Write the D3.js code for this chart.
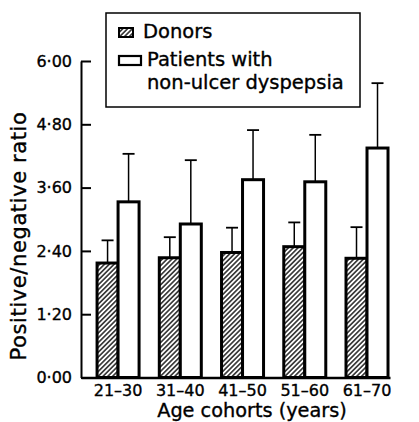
<!DOCTYPE html>
<html>
<head>
<meta charset="utf-8">
<script src="https://cdn.jsdelivr.net/npm/d3@7"></script>
<style>
  body { margin: 0; background: #fff; }
  text { font-family: "DejaVu Sans", sans-serif; fill: #000; stroke: #000; stroke-width: 0.35px; }
</style>
</head>
<body>
<div id="chart"></div>
<script>
// age cohorts and series (mean ratio, top of SD bar)
const cohorts = ['21–30', '31–40', '41–50', '51–60', '61–70'];
const donors = [2.17, 2.27, 2.37, 2.48, 2.26];
const donorsTop = [2.60, 2.66, 2.84, 2.94, 2.85];
const patients = [3.33, 2.91, 3.75, 3.71, 4.35];
const patientsTop = [4.24, 4.12, 4.69, 4.60, 5.58];
const yTicks = [0, 1.2, 2.4, 3.6, 4.8, 6.0];

const width = 419;
const height = 422;

const svg = d3.select('#chart')
  .append('svg')
  .attr('width', width)
  .attr('height', height);

const defs = svg.append('defs');
defs.append('pattern')
  .attr('id', 'hatch')
  .attr('patternUnits', 'userSpaceOnUse')
  .attr('width', 3.4)
  .attr('height', 3.4)
  .attr('patternTransform', 'rotate(45)')
  .append('line')
    .attr('x1', 1.7).attr('y1', -1)
    .attr('x2', 1.7).attr('y2', 5)
    .attr('stroke', '#000')
    .attr('stroke-width', 1.3);

const y = d3.scaleLinear().domain([0, 6]).range([377.5, 61]);

const x0 = d3.scaleBand()
  .domain(cohorts)
  .range([81, 390])
  .paddingInner(0.325)
  .paddingOuter(0.145)
  .align(0.89);

const x1 = d3.scaleBand()
  .domain(['donors', 'patients'])
  .range([0, x0.bandwidth()]);

const rows = cohorts.map((c, i) => ({
  cohort: c,
  bars: [
    { key: 'donors', v: donors[i], top: donorsTop[i] },
    { key: 'patients', v: patients[i], top: patientsTop[i] }
  ]
}));

const groups = svg.append('g')
  .selectAll('g')
  .data(rows)
  .enter()
  .append('g')
  .attr('transform', d => 'translate(' + x0(d.cohort) + ',0)');

// error bars (upper only)
const err = groups.selectAll('g.err')
  .data(d => d.bars)
  .enter()
  .append('g')
  .attr('class', 'err');

err.append('line')
  .attr('x1', d => x1(d.key) + x1.bandwidth() / 2)
  .attr('x2', d => x1(d.key) + x1.bandwidth() / 2)
  .attr('y1', d => y(d.v))
  .attr('y2', d => y(d.top))
  .attr('stroke', '#000')
  .attr('stroke-width', 1.5);

err.append('line')
  .attr('x1', d => x1(d.key) + x1.bandwidth() / 2 - 6)
  .attr('x2', d => x1(d.key) + x1.bandwidth() / 2 + 6)
  .attr('y1', d => y(d.top))
  .attr('y2', d => y(d.top))
  .attr('stroke', '#000')
  .attr('stroke-width', 1.8);

groups.selectAll('rect')
  .data(d => d.bars)
  .enter()
  .append('rect')
  .attr('x', d => x1(d.key))
  .attr('y', d => y(d.v))
  .attr('width', x1.bandwidth())
  .attr('height', d => y(0) - y(d.v))
  .attr('fill', d => d.key === 'donors' ? 'url(#hatch)' : '#fff')
  .attr('stroke', '#000')
  .attr('stroke-width', 3);

// y axis, ticks point inward
const yAxis = svg.append('g')
  .attr('transform', 'translate(81,0)')
  .call(d3.axisLeft(y)
    .tickValues(yTicks)
    .tickSizeInner(-10)
    .tickSizeOuter(0)
    .tickPadding(9)
    .tickFormat(d => d3.format('.2f')(d).replace('.', '·')));

yAxis.selectAll('path, line').attr('stroke', '#000').attr('stroke-width', 2);
yAxis.selectAll('text')
  .style('font-family', '"DejaVu Sans", sans-serif')
  .style('font-size', '16px')
  .attr('fill', '#000');

// x axis
const xAxis = svg.append('g')
  .attr('transform', 'translate(0,' + y(0) + ')')
  .call(d3.axisBottom(x0).tickSize(0).tickPadding(7));

xAxis.select('.domain').attr('stroke', '#000').attr('stroke-width', 2.5);
xAxis.selectAll('text')
  .style('font-family', '"DejaVu Sans", sans-serif')
  .style('font-size', '16px')
  .attr('fill', '#000');

svg.append('text')
  .attr('x', 252)
  .attr('y', 417)
  .attr('text-anchor', 'middle')
  .style('font-size', '19.3px')
  .text('Age cohorts (years)');

svg.append('text')
  .attr('transform', 'translate(26,236) rotate(-90)')
  .attr('text-anchor', 'middle')
  .style('font-size', '21px')
  .style('letter-spacing', '0.6px')
  .text('Positive/negative ratio');

// legend
const legend = svg.append('g');
legend.append('rect')
  .attr('x', 106).attr('y', 13)
  .attr('width', 254).attr('height', 94)
  .attr('fill', '#fff')
  .attr('stroke', '#000')
  .attr('stroke-width', 1.5);

legend.append('rect')
  .attr('x', 119).attr('y', 28)
  .attr('width', 14).attr('height', 9)
  .attr('fill', 'url(#hatch)')
  .attr('stroke', '#000')
  .attr('stroke-width', 2);

legend.append('rect')
  .attr('x', 119).attr('y', 56)
  .attr('width', 22).attr('height', 9)
  .attr('fill', '#fff')
  .attr('stroke', '#000')
  .attr('stroke-width', 2.2);

legend.append('text')
  .attr('x', 143).attr('y', 38)
  .style('font-size', '19.5px')
  .text('Donors');

legend.append('text')
  .attr('x', 147).attr('y', 66)
  .style('font-size', '19.5px')
  .text('Patients with');

legend.append('text')
  .attr('x', 147).attr('y', 89)
  .style('font-size', '19.5px')
  .text('non-ulcer dyspepsia');
</script>
</body>
</html>
